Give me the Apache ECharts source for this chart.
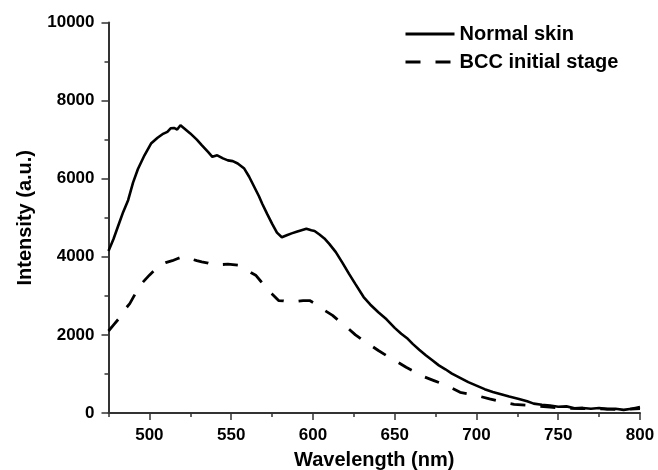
<!DOCTYPE html>
<html>
<head>
<meta charset="utf-8">
<script src="https://cdn.jsdelivr.net/npm/echarts@6/dist/echarts.min.js"></script>
<style>
html,body{margin:0;padding:0;background:#fff;}
#chart{width:658px;height:470px;}
</style>
</head>
<body>
<div id="chart"></div>
<script>
// Wavelength (nm) / intensity (a.u.) pairs
var normalSkin = [
[475,4150],[478,4450],[481,4800],[484,5150],[487,5450],[490,5900],[493,6250],[497,6600],
[501,6900],[505,7050],[508,7140],[511,7200],[513,7290],[515,7300],[517,7260],[519,7370],
[521,7300],[525,7160],[529,7000],[532,6860],[536,6680],[538.5,6560],[541.5,6600],[545,6520],
[548,6470],[551,6450],[554,6390],[558,6260],[561,6050],[564,5800],[567,5550],[569,5360],
[572,5100],[575,4850],[578,4620],[581,4500],[584,4550],[587,4600],[590,4640],[593,4680],
[596,4720],[599,4680],[601,4660],[604,4570],[607,4470],[610,4330],[614,4120],[618,3850],
[622,3570],[626,3300],[631,2970],[635,2780],[640,2580],[645,2400],[650,2180],[654,2030],
[658,1900],[661,1770],[665,1620],[669,1480],[673,1350],[677,1220],[681,1120],[685,1010],
[690,900],[695,790],[700,700],[705,610],[710,540],[715,480],[720,420],[726,360],[731,300],
[735,240],[740,210],[745,190],[750,160],[755,170],[760,120],[765,130],[770,110],[775,130],
[780,100],[785,110],[790,80],[795,110],[800,150]
];
var bccInitial = [
[475,2100],[478,2250],[481,2400],[484,2600],[488,2800],[492,3100],[496,3350],[500,3530],
[503,3650],[506,3780],[510,3850],[514,3900],[517,3950],[521,4010],[525,3950],[529,3900],
[532,3870],[536,3840],[540,3780],[544,3800],[548,3810],[551,3800],[555,3780],[558,3720],
[562,3600],[565,3530],[568,3380],[571,3230],[575,3050],[579,2880],[582,2870],[586,2840],
[590,2860],[594,2880],[598,2880],[603,2760],[607,2630],[612,2500],[617,2320],[622,2150],
[626,2000],[630,1880],[634,1770],[640,1600],[645,1470],[650,1350],[657,1170],[662,1060],
[666,960],[674,830],[682,700],[690,530],[700,450],[708,360],[716,280],[723,220],[730,200],
[735,180],[745,150],[755,120],[765,110],[775,110],[785,90],[800,110]
];
var seriesNames = ['Normal skin', 'BCC initial stage'];
var xMajorTicks = [500, 550, 600, 650, 700, 750, 800];
var xMinorTicks = [475, 525, 575, 625, 675, 725, 775];
var xName = 'Wavelength (nm)';
var yName = 'Intensity (a.u.)';

var FONT = '"Liberation Sans", Arial, sans-serif';
var chart = echarts.init(document.getElementById('chart'), null, {renderer: 'canvas'});
chart.setOption({
  animation: false,
  backgroundColor: '#fff',
  grid: {left: 108.5, right: 18, top: 22.5, bottom: 57, containLabel: false, outerBoundsMode: 'none'},
  legend: {
    orient: 'vertical', left: 404, top: 24, padding: 0,
    itemWidth: 49, itemHeight: 14, itemGap: 8,
    itemStyle: {opacity: 0},
    lineStyle: {width: 3},
    textStyle: {fontFamily: FONT, fontWeight: 'bold', fontSize: 20, color: '#000'},
    data: seriesNames
  },
  xAxis: [{
    type: 'value', min: 475, max: 800, position: 'bottom',
    name: xName, nameLocation: 'middle', nameGap: 37,
    nameTextStyle: {fontFamily: FONT, fontWeight: 'bold', fontSize: 20, color: '#000'},
    axisLine: {show: true, onZero: false, lineStyle: {color: '#333', width: 2}},
    axisTick: {show: true, inside: false, length: 7, customValues: xMajorTicks, lineStyle: {color: '#333', width: 1.5}},
    axisLabel: {show: true, margin: 14, customValues: xMajorTicks, fontFamily: FONT, fontWeight: 'bold', fontSize: 17, color: '#000'},
    splitLine: {show: false}
  }, {
    type: 'value', min: 475, max: 800, position: 'bottom',
    axisLine: {show: false},
    axisTick: {show: true, inside: false, length: 4, customValues: xMinorTicks, lineStyle: {color: '#333', width: 1.5}},
    axisLabel: {show: false},
    splitLine: {show: false}
  }],
  yAxis: {
    type: 'value', min: 0, max: 10000, interval: 2000,
    name: yName, nameLocation: 'middle', nameGap: 73, nameRotate: 90,
    nameTextStyle: {fontFamily: FONT, fontWeight: 'bold', fontSize: 20, color: '#000'},
    axisLine: {show: true, lineStyle: {color: '#333', width: 2}},
    axisTick: {show: true, inside: false, length: 7, lineStyle: {color: '#333', width: 1.5}},
    minorTick: {show: true, splitNumber: 2, length: 4, lineStyle: {color: '#333', width: 1.5}},
    axisLabel: {margin: 14, fontFamily: FONT, fontWeight: 'bold', fontSize: 17, color: '#000',
      formatter: function (v) { return String(v); }},
    splitLine: {show: false}
  },
  series: [{
    name: seriesNames[0], type: 'line', xAxisIndex: 0, data: normalSkin,
    symbol: 'none', smooth: false,
    lineStyle: {color: '#000', width: 2.6, type: 'solid'},
    itemStyle: {color: '#000'}
  }, {
    name: seriesNames[1], type: 'line', xAxisIndex: 0, data: bccInitial,
    symbol: 'none', smooth: false,
    lineStyle: {color: '#000', width: 2.8, type: [15, 15]},
    itemStyle: {color: '#000'}
  }]
});
</script>
</body>
</html>
